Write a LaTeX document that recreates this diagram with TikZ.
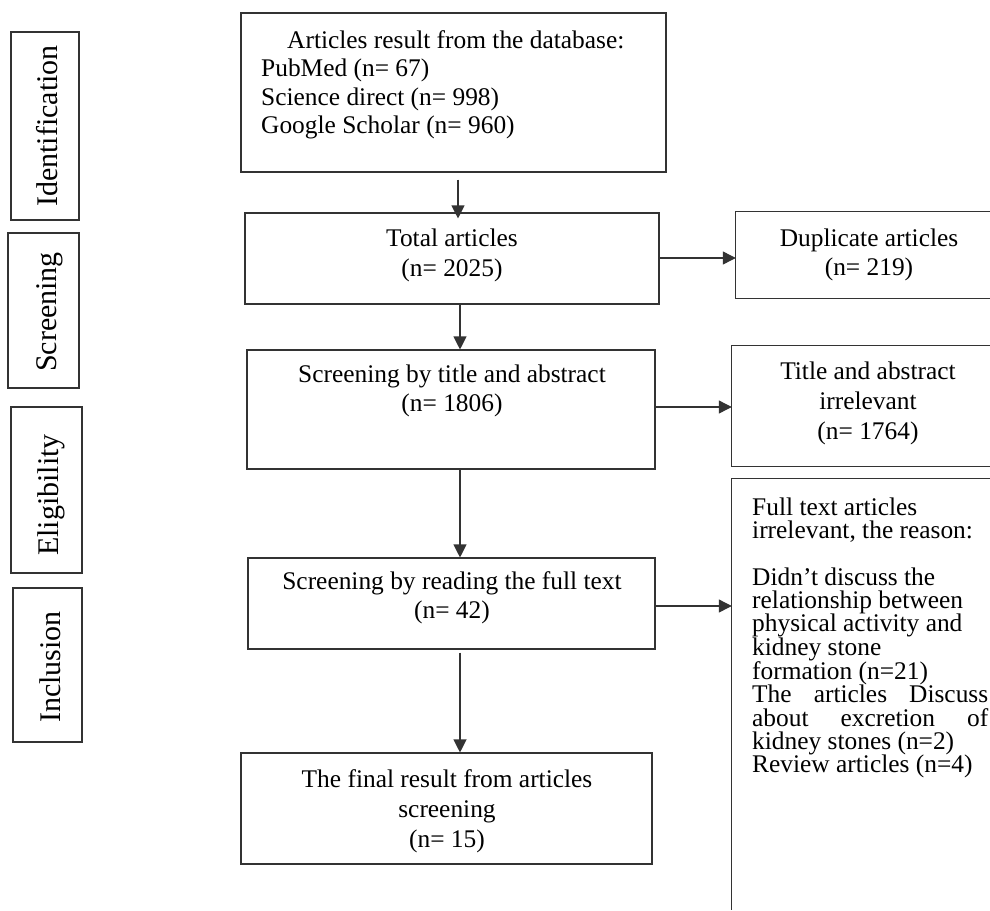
\documentclass[tikz,border=0pt]{standalone}
\usepackage{fontspec}
\setmainfont{Liberation Serif}
\usetikzlibrary{arrows.meta}
\begin{document}
\begin{tikzpicture}[x=1pt,y=-1pt,
  box/.style={draw=black!80, line width=1.1pt, inner sep=0pt},
  openbox/.style={inner sep=0pt},
  edge/.style={draw=black!80, line width=1.1pt},
  txt/.style={inner sep=0pt, font={\fontsize{25.4}{28.5}\selectfont}},
  widetxt/.style={inner sep=0pt, font={\fontsize{25.4}{30}\selectfont}},
  smalltxt/.style={inner sep=0pt, font={\fontsize{25.4}{23.3}\selectfont}},
  sidetxt/.style={inner sep=0pt, rotate=90, anchor=base, font={\fontsize{30}{34}\selectfont}},
  arr/.style={draw=black!80, line width=1.1pt, -{Triangle[length=13pt,width=13pt]}}]
\useasboundingbox (0,0) rectangle (990,910);
\fill[white] (0,0) rectangle (990,910);

% side stage boxes
\node[box, minimum width=68pt, minimum height=188pt] (lI) at (45,126) {};
\node[box, minimum width=71pt, minimum height=155pt] (lS) at (43.5,310.5) {};
\node[box, minimum width=71pt, minimum height=166pt] (lE) at (46.5,490) {};
\node[box, minimum width=69pt, minimum height=154pt] (lN) at (47.5,665) {};
\node[sidetxt] (sI) at (57.3,126) {Identification};
\node[sidetxt] (sS) at (56.7,312) {Screening};
\node[sidetxt] (sE) at (58,495) {Eligibility};
\node[sidetxt] (sN) at (60,667) {Inclusion};

% main boxes
\node[box, minimum width=425pt, minimum height=159pt] (cA) at (453.5,92.5) {};
\node[box, minimum width=414pt, minimum height=91pt] (cB) at (452,258.5) {};
\node[box, minimum width=408pt, minimum height=119pt] (cC) at (451,409.5) {};
\node[box, minimum width=407pt, minimum height=91pt] (cD) at (451.5,603.5) {};
\node[box, minimum width=411pt, minimum height=111pt] (cE) at (446.5,808.5) {};

% right boxes (open on the right / bottom)
\node[openbox, minimum width=254pt, minimum height=86pt] (cF) at (863,255) {};
\node[openbox, minimum width=258pt, minimum height=120pt] (cG) at (861,406) {};
\node[openbox, minimum width=258pt, minimum height=431pt] (cH) at (861,694.5) {};
\draw[edge] (cF.north east) -- (cF.north west) -- (cF.south west) -- (cF.south east);
\draw[edge] (cG.north east) -- (cG.north west) -- (cG.south west) -- (cG.south east);
\draw[edge] (cH.north east) -- (cH.north west) -- (cH.south west);

% texts
\node[txt, align=left, anchor=north west] (tA) at (261,30)
  {\hspace*{26pt}Articles result from the database:\\PubMed (n= 67)\\Science direct (n= 998)\\Google Scholar (n= 960)};
\node[widetxt, align=center] (tB) at (452,255.5) {Total articles\\(n= 2025)};
\node[txt, align=center] (tC) at (452,391) {Screening by title and abstract\\(n= 1806)};
\node[txt, align=center] (tD) at (452,598) {Screening by reading the full text\\(n= 42)};
\node[widetxt, align=center] (tE) at (447,811) {The final result from articles\\screening\\(n= 15)};
\node[txt, align=center] (tF) at (869,255) {Duplicate articles\\(n= 219)};
\node[widetxt, align=center] (tG) at (868,403.5) {Title and abstract\\irrelevant\\(n= 1764)};
\node[smalltxt, align=left, anchor=north west] (tH) at (752,497.5)
  {Full text articles\\irrelevant, the reason:\\[23.3pt]Didn’t discuss the\\relationship between\\physical activity and\\kidney stone\\formation (n=21)\\\makebox[236pt][s]{The articles Discuss}\\\makebox[236pt][s]{about excretion of}\\kidney stones (n=2)\\Review articles (n=4)};

% connectors
\coordinate (xA) at (458,0);
\coordinate (xB) at (460,0);
\coordinate (yB) at (0,258);
\coordinate (yC) at (0,407);
\coordinate (yD) at (0,606);
\draw[arr, shorten <=7pt, shorten >=-6pt] (cA.south -| xA) -- (cB.north -| xA);
\draw[arr] (cB.south -| xB) -- (cC.north -| xB);
\draw[arr] (cC.south -| xB) -- (cD.north -| xB);
\draw[arr, shorten <=3pt] (cD.south -| xB) -- (cE.north -| xB);
\draw[arr] (cB.east |- yB) -- (cF.west |- yB);
\draw[arr] (cC.east |- yC) -- (cG.west |- yC);
\draw[arr] (cD.east |- yD) -- (cH.west |- yD);
\end{tikzpicture}
\end{document}
